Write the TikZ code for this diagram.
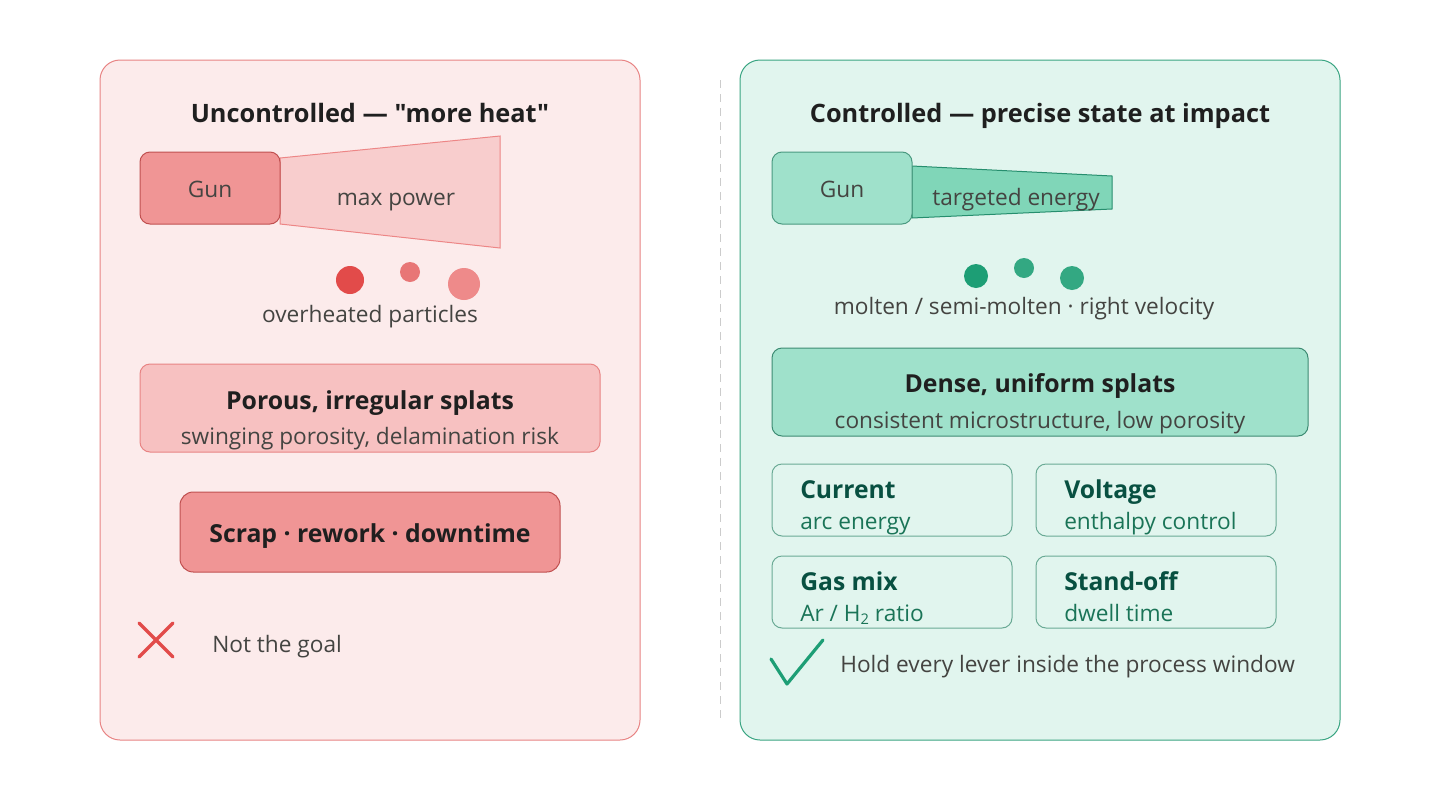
\documentclass[tikz,border=0pt]{standalone}
\usepackage{fontspec}
\setmainfont{Open Sans}[Ligatures=TeXOff]
\definecolor{red50}{HTML}{FCEBEB}
\definecolor{red100}{HTML}{F7C1C1}
\definecolor{red150}{HTML}{F8CDCD}
\definecolor{red200}{HTML}{F09595}
\definecolor{red300}{HTML}{E87676}
\definecolor{red400}{HTML}{E24B4A}
\definecolor{red600}{HTML}{C05050}
\definecolor{redline}{HTML}{E88484}
\definecolor{teal50}{HTML}{E1F5EE}
\definecolor{teal100}{HTML}{9FE1CB}
\definecolor{teal150}{HTML}{80D6B8}
\definecolor{teal400}{HTML}{1D9E75}
\definecolor{teal500}{HTML}{33A882}
\definecolor{tealline}{HTML}{3AA582}
\definecolor{tealdark}{HTML}{4A9A80}
\definecolor{tealbox}{HTML}{6AAA95}
\definecolor{teal800}{HTML}{085041}
\definecolor{teal700}{HTML}{1A7457}
\definecolor{ink}{HTML}{1F1F1F}
\definecolor{grayt}{HTML}{444441}
\tikzset{
  x=0.75pt, y=-0.75pt,
  panel/.style={rounded corners=15pt, line width=0.75pt},
  txt/.style={inner sep=0pt, anchor=base, text=grayt, font=\fontsize{17}{20}\selectfont},
  ttl/.style={inner sep=0pt, anchor=base, text=ink, font=\fontsize{19}{23}\selectfont\bfseries},
  bttl/.style={inner sep=0pt, anchor=base, text=ink, font=\fontsize{18.6}{22}\selectfont\bfseries},
  lvt/.style={inner sep=0pt, anchor=base west, text=teal800, font=\fontsize{18.5}{22}\selectfont\bfseries},
  lvs/.style={inner sep=0pt, anchor=base west, text=teal700, font=\fontsize{17}{20}\selectfont},
  lever/.style={draw=tealbox, fill=teal50, rounded corners=7.5pt, line width=0.75pt},
}
\begin{document}
\begin{tikzpicture}
\useasboundingbox (0,0) rectangle (1440,800);
\fill[white] (0,0) rectangle (1440,800);
% panels
\draw[panel, draw=redline, fill=red50] (100,60) rectangle (640,740);
\draw[panel, draw=tealline, fill=teal50] (740,60) rectangle (1340,740);
\coordinate (dtop) at (720,80);
\coordinate (dbot) at (720,720);
\draw[gray!40, dash pattern=on 6pt off 4.5pt, line width=0.75pt] (dtop) -- (dbot);

% ---------- left ----------
\node[ttl] (ltitle) at (370,122) {Uncontrolled — "more heat"};
\draw[draw=red200!80!red400, fill=red150, line width=0.75pt] (280,158) -- (500,136) -- (500,248) -- (280,224) -- cycle;
\draw[draw=red600, fill=red200, rounded corners=7.5pt, line width=0.75pt] (140,152) rectangle (280,224);
\node[txt] (lgun) at (210,197) {Gun};
\node[txt] (lbeam) at (396,205) {max power};
\fill[red400] (350,280) circle (10.5pt);
\fill[red300] (410,272) circle (7.5pt);
\fill[red200!85!red400] (464,284) circle (12pt);
\node[txt] (lpart) at (370,322) {overheated particles};
\draw[draw=redline, fill=red100, rounded corners=7.5pt, line width=0.75pt] (140,364) rectangle (600,452);
\node[bttl] (lsplat) at (370,409) {Porous, irregular splats};
\node[txt] (lsplats) at (370,444) {swinging porosity, delamination risk};
\draw[draw=red600, fill=red200, rounded corners=10pt, line width=0.75pt] (180,492) rectangle (560,572);
\node[bttl] (lscrap) at (370,542) {Scrap · rework · downtime};
\draw[red400, line width=2.4pt, line cap=round] (139,623) -- (173,657) (173,623) -- (139,657);
\node[txt, anchor=base west] (lnot) at (212,652) {Not the goal};

% ---------- right ----------
\node[ttl] (rtitle) at (1040,122) {Controlled — precise state at impact};
\draw[draw=teal500!70!teal800, fill=teal150, line width=0.75pt] (912,166) -- (1112,176) -- (1112,209) -- (912,218) -- cycle;
\draw[draw=tealdark, fill=teal100, rounded corners=7.5pt, line width=0.75pt] (772,152) rectangle (912,224);
\node[txt] (rgun) at (842,197) {Gun};
\node[txt] (rbeam) at (1016,205) {targeted energy};
\fill[teal400] (976,276) circle (9pt);
\fill[teal500] (1024,268) circle (7.5pt);
\fill[teal500] (1072,278) circle (9pt);
\node[txt] (rpart) at (1024,314) {molten / semi-molten · right velocity};
\draw[draw=tealdark!80!teal800, fill=teal100, rounded corners=7.5pt, line width=0.75pt] (772,348) rectangle (1308,436);
\node[bttl] (rsplat) at (1040,392) {Dense, uniform splats};
\node[txt] (rsplats) at (1040,428) {consistent microstructure, low porosity};

\draw[lever] (772,464) rectangle (1012,536);
\node[lvt] (cur) at (800,498) {Current};
\node[lvs] (curs) at (800,529) {arc energy};
\draw[lever] (1036,464) rectangle (1276,536);
\node[lvt] (vol) at (1064,498) {Voltage};
\node[lvs] (vols) at (1064,529) {enthalpy control};
\draw[lever] (772,556) rectangle (1012,628);
\node[lvt] (gas) at (800,590) {Gas mix};
\node[lvs] (gass) at (800,621) {Ar / H\raisebox{-0.25ex}{\fontsize{11}{13}\selectfont 2} ratio};
\draw[lever] (1036,556) rectangle (1276,628);
\node[lvt] (sto) at (1064,590) {Stand-off};
\node[lvs] (stos) at (1064,621) {dwell time};

\draw[teal400, line width=2.4pt, line cap=round, line join=round] (771,659) -- (787,684) -- (823,640);
\node[txt, anchor=base west] (rhold) at (840,672) {Hold every lever inside the process window};
\end{tikzpicture}
\end{document}
